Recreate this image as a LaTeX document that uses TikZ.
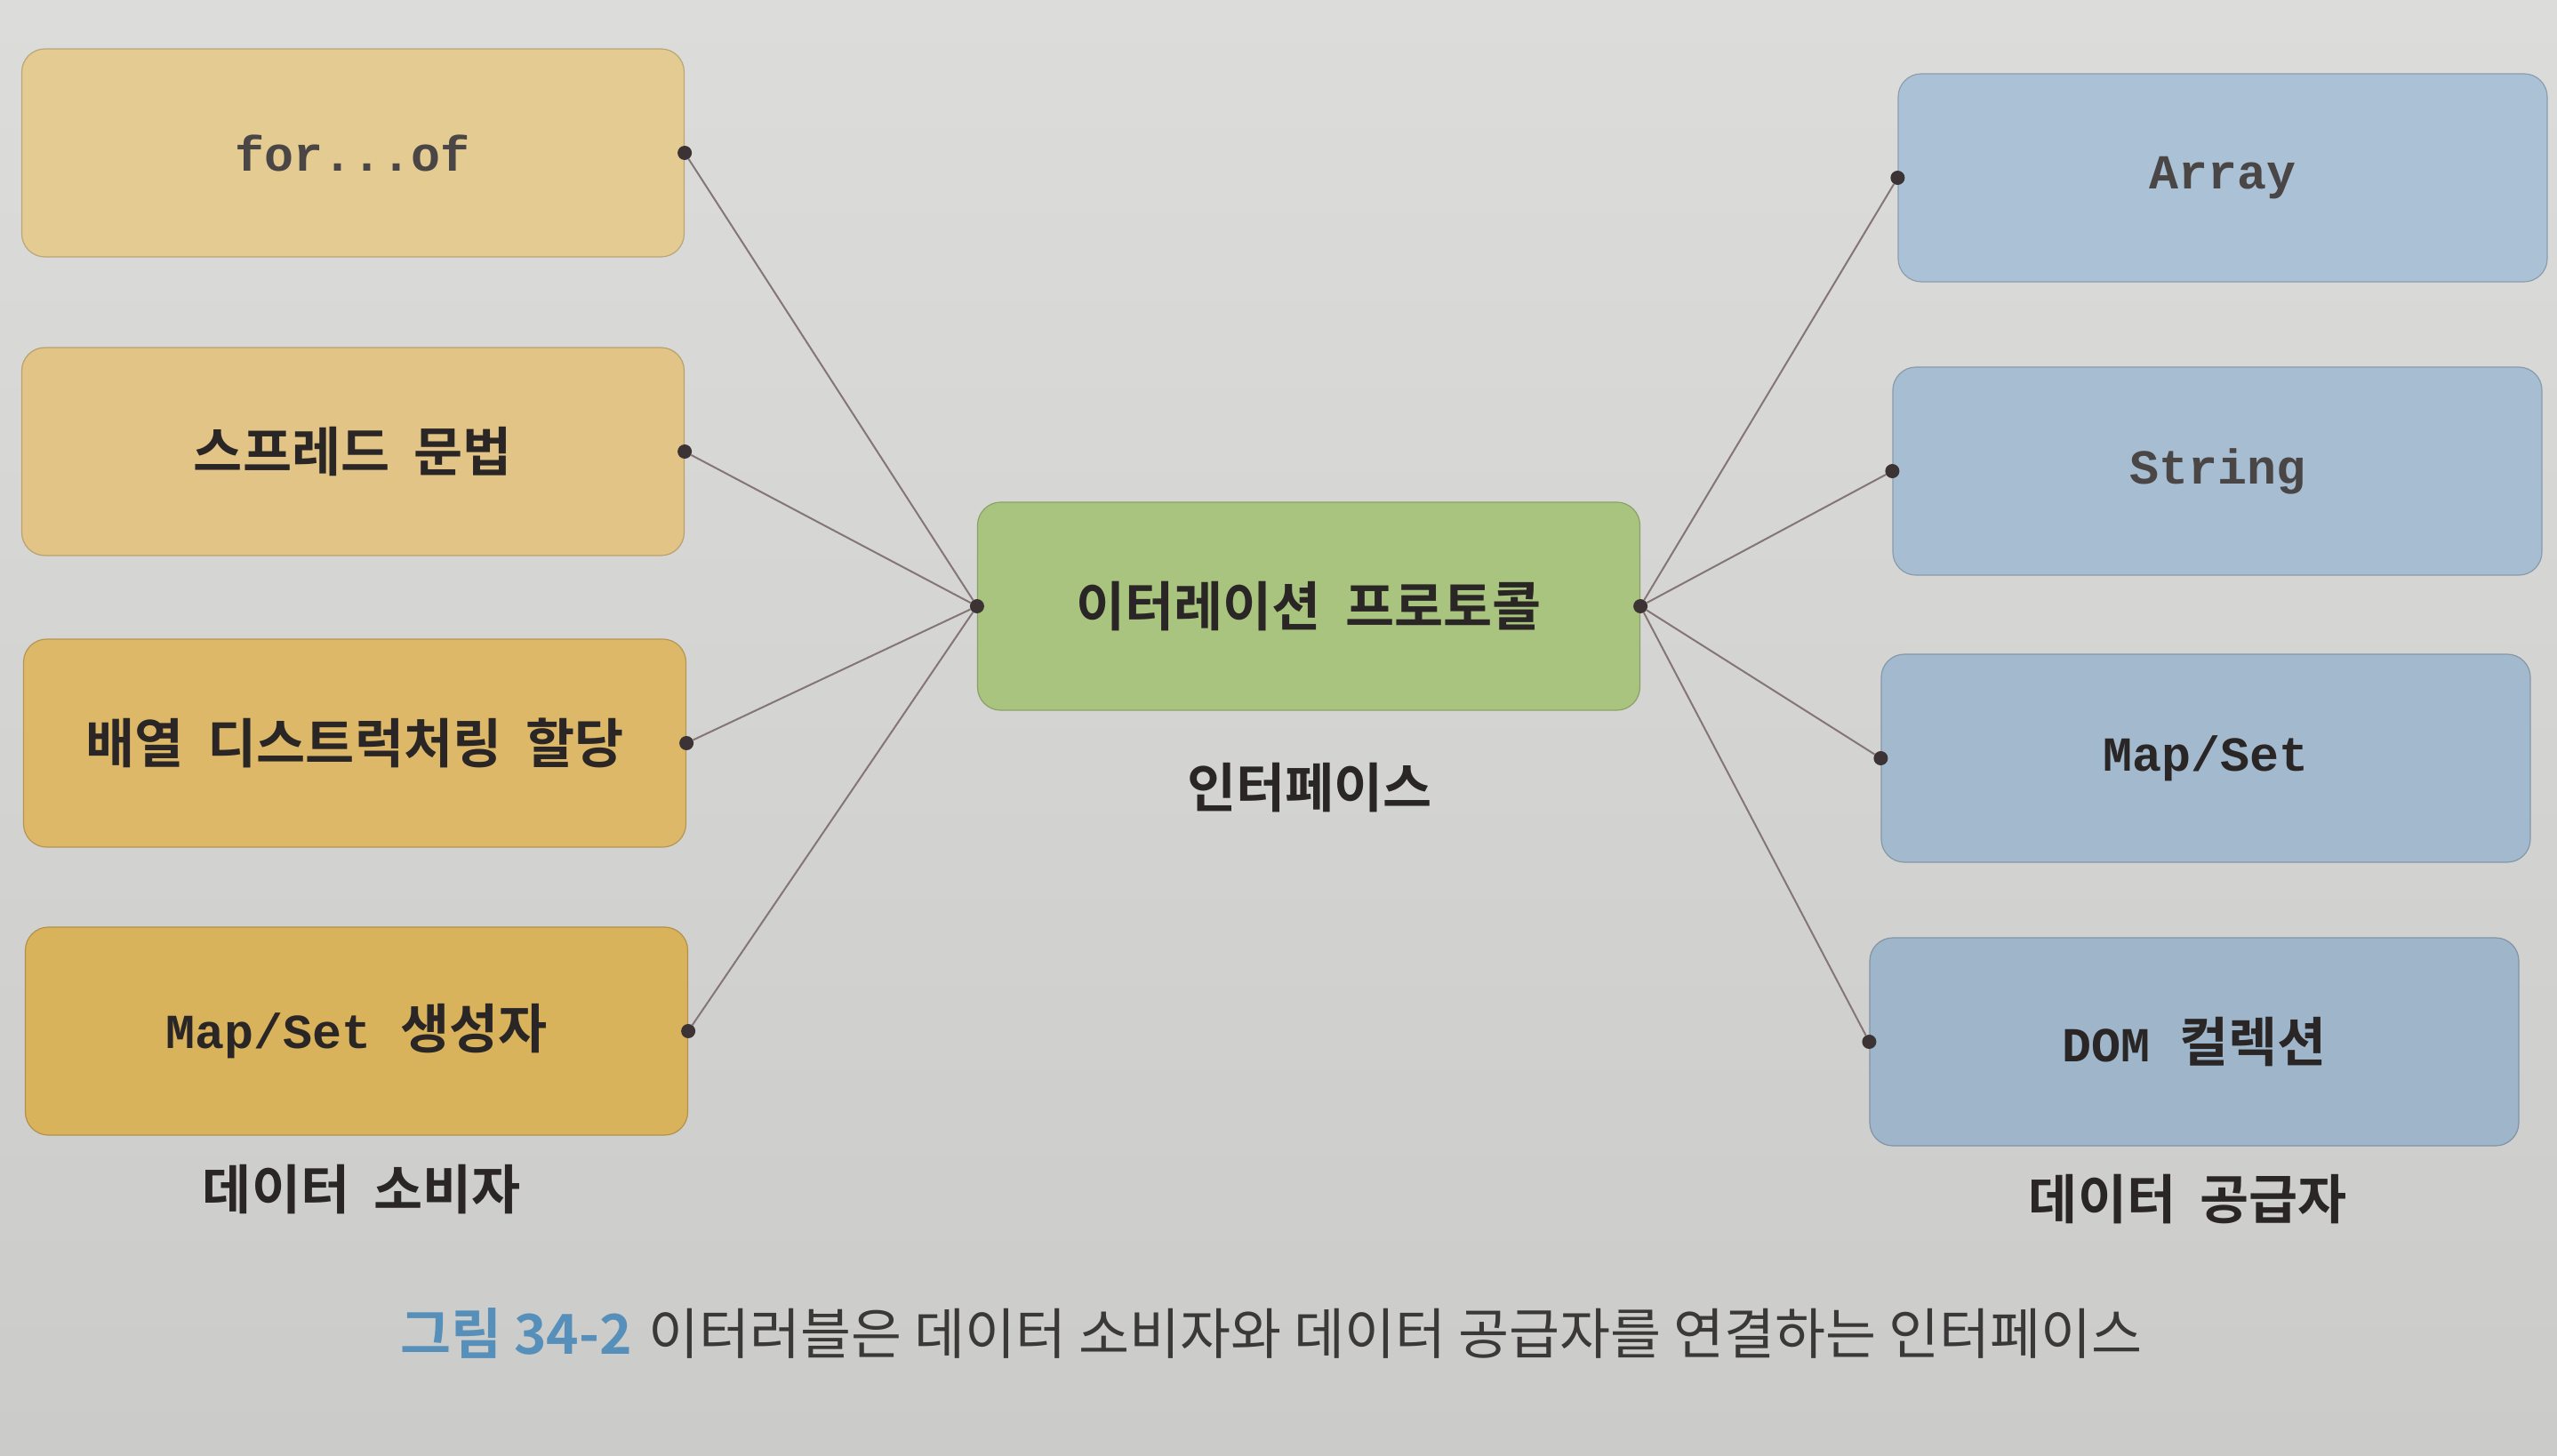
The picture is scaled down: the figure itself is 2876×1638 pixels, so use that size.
\documentclass[tikz,border=0pt]{standalone}
\usepackage{fontspec}
\setmonofont{Liberation Mono}
\newfontfamily\krb{Noto Sans CJK KR Bold}[WordSpace=2.0, Scale=1.09]
\newfontfamily\krcapb{Noto Sans CJK KR Bold}
\newfontfamily\krr{Noto Sans CJK KR}
\definecolor{bgtop}{HTML}{DCDCDA}
\definecolor{bgbot}{HTML}{CBCBC9}
\definecolor{goldA}{HTML}{E3CB92}
\definecolor{goldB}{HTML}{E1C486}
\definecolor{goldC}{HTML}{DDB868}
\definecolor{goldD}{HTML}{D9B25C}
\definecolor{greenC}{HTML}{A9C47E}
\definecolor{blueA}{HTML}{AAC1D6}
\definecolor{blueB}{HTML}{A6BDD2}
\definecolor{blueC}{HTML}{A2B9CE}
\definecolor{blueD}{HTML}{9EB5CA}
\definecolor{txt}{HTML}{2A2626}
\definecolor{txtlight}{HTML}{4A4646}
\definecolor{linec}{HTML}{857676}
\definecolor{dotc}{HTML}{3C3434}
\definecolor{capblue}{HTML}{5690BA}
\definecolor{captxt}{HTML}{3A3838}
\newcommand\bigsz{\fontsize{55pt}{62pt}\selectfont}
\newcommand\capsz{\fontsize{62pt}{70pt}\selectfont}
\begin{document}
\begin{tikzpicture}[x=1pt,y=-1pt,
  box/.style={rounded corners=26pt, minimum width=745pt, minimum height=234pt,
    inner sep=0pt, fill=#1, draw=#1!82!black, line width=1.2pt, text=txt, font=\bigsz},
  rbox/.style={box=#1, minimum width=730pt},
  dot/.style={circle, fill=dotc, inner sep=0pt, minimum size=16pt},
  conn/.style={draw=linec, line width=2pt},
  lbl/.style={text=txt, font=\bigsz\krb, inner sep=0pt}]
\useasboundingbox (0,0) rectangle (2876,1638);
\shade[top color=bgtop, bottom color=bgbot] (0,0) rectangle (2876,1638);

% consumers
\node[box=goldA, text=txtlight] (forof) at (397,172) {\ttfamily\bfseries for...of};
\node[box=goldB] (spread) at (397,508) {\krb 스프레드 문법};
\node[box=goldC] (destr) at (399,836) {\krb 배열 디스트럭처링 할당};
\node[box=goldD] (mapctor) at (401,1160) {{\ttfamily\bfseries Map/Set }{\krb 생성자}};
\node[lbl] (cons) at (407,1338) {데이터 소비자};

% interface
\node[box=greenC] (iter) at (1472,682) {\krb 이터레이션 프로토콜};
\node[lbl] (intf) at (1473,886) {인터페이스};

% providers
\node[rbox=blueA, text=txtlight] (arr) at (2500,200) {\ttfamily\bfseries Array};
\node[rbox=blueB, text=txtlight] (str) at (2494,530) {\ttfamily\bfseries String};
\node[rbox=blueC] (mapset) at (2481,853) {\ttfamily\bfseries Map/Set};
\node[rbox=blueD] (dom) at (2468,1172) {{\ttfamily\bfseries DOM }{\krb 컬렉션}};
\node[lbl] (prov) at (2461,1349) {데이터 공급자};

% dots
\node[dot] (d1) at (forof.east) {};
\node[dot] (d2) at (spread.east) {};
\node[dot] (d3) at (destr.east) {};
\node[dot] (d4) at (mapctor.east) {};
\node[dot] (cl) at (iter.west) {};
\node[dot] (cr) at (iter.east) {};
\node[dot] (e1) at (arr.west) {};
\node[dot] (e2) at (str.west) {};
\node[dot] (e3) at (mapset.west) {};
\node[dot] (e4) at (dom.west) {};

% connectors
\foreach \a in {d1,d2,d3,d4} \draw[conn] (\a) -- (cl);
\foreach \b in {e1,e2,e3,e4} \draw[conn] (cr) -- (\b);

% caption
\node[inner sep=0pt, font=\capsz, text=captxt] (cap) at (1430,1500)
  {{\krcapb\color{capblue}그림 34-2}\hspace{0.3em}{\krr 이터러블은 데이터 소비자와 데이터 공급자를 연결하는 인터페이스}};
\end{tikzpicture}
\end{document}
